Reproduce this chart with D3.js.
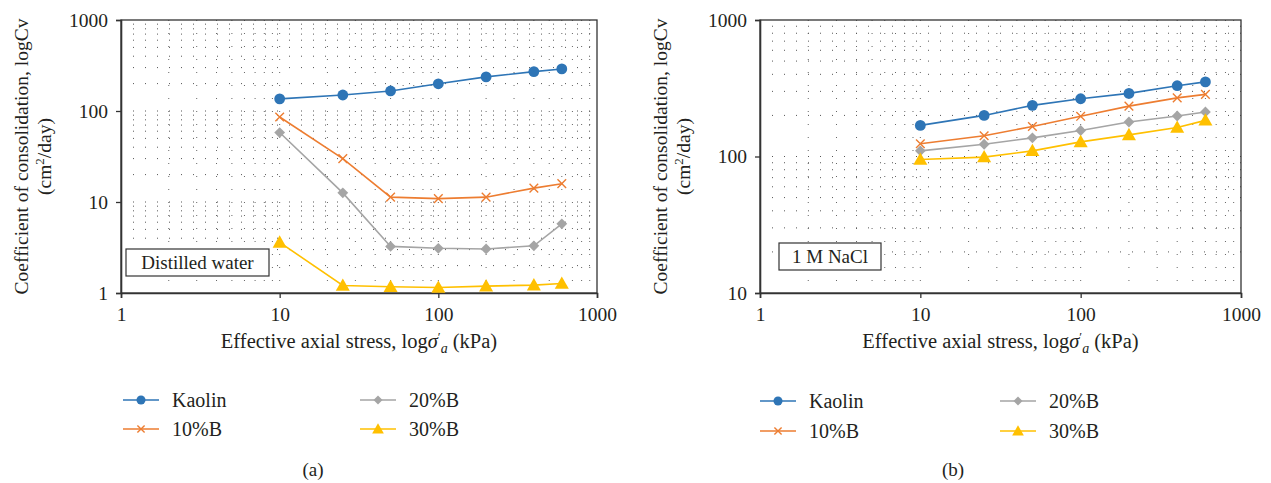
<!DOCTYPE html>
<html lang="en">
<head>
<meta charset="UTF-8"/>
<title>Coefficient of consolidation</title>
<script src="https://d3js.org/d3.v7.min.js"></script>
<style>
    body { margin: 0; background: #fff; }
    text { font-family: "Liberation Serif", "DejaVu Serif", serif; fill: #231f20; }
</style>
</head>
<body>
<script>
    var w = 1271;
    var h = 483;

    // effective axial stress (kPa)
    var stress = [10, 25, 50, 100, 200, 400, 600];
    var seriesNames = ["Kaolin", "10%B", "20%B", "30%B"];
    var seriesColors = ["#2e75b6", "#ed7d31", "#a5a5a5", "#ffc000"];
    var seriesMarkers = ["circle", "cross", "diamond", "triangle"];

    // (a) distilled water, Cv in cm2/day
    var waterKaolin = [136, 150, 166, 199, 237, 271, 290];
    var water10B = [86, 30, 11.3, 10.9, 11.3, 14.2, 15.9];
    var water20B = [58, 12.6, 3.25, 3.1, 3.05, 3.3, 5.75];
    var water30B = [3.6, 1.21, 1.17, 1.15, 1.19, 1.22, 1.27];

    // (b) 1 M NaCl
    var naclKaolin = [169, 200, 237, 265, 290, 330, 352];
    var nacl10B = [124, 142, 166, 197, 234, 269, 285];
    var nacl20B = [110, 123, 137, 155, 179, 198, 212];
    var nacl30B = [95, 99, 110, 128, 144, 163, 184];

    var xTicks = [1, 10, 100, 1000];
    var yTicksA = [1, 10, 100, 1000];
    var yTicksB = [10, 100, 1000];

    var svg = d3.select("body")
                .append("svg")
                .attr("width", w)
                .attr("height", h);

    function drawMarker(g, type, x, y, color, s) {
        if (type == "circle") {
            g.append("circle").attr("cx", x).attr("cy", y).attr("r", s)
             .attr("fill", color);
        } else if (type == "cross") {
            var c = s * 0.8;
            g.append("path")
             .attr("d", "M" + (x - c) + "," + (y - c) + "L" + (x + c) + "," + (y + c) +
                        "M" + (x - c) + "," + (y + c) + "L" + (x + c) + "," + (y - c))
             .attr("stroke", color).attr("stroke-width", 1.4).attr("fill", "none");
        } else if (type == "diamond") {
            g.append("path")
             .attr("d", "M" + x + "," + (y - s) + "L" + (x + s) + "," + y +
                        "L" + x + "," + (y + s) + "L" + (x - s) + "," + y + "Z")
             .attr("fill", color);
        } else {
            var t = s * 1.3;
            g.append("path")
             .attr("d", "M" + x + "," + (y - t) + "L" + (x + t) + "," + (y + t * 0.75) +
                        "L" + (x - t) + "," + (y + t * 0.75) + "Z")
             .attr("fill", color);
        }
    }

    function drawPanel(opt) {
        var x0 = opt.left, x1 = opt.right, y0 = opt.top, y1 = opt.bottom;

        var xScale = d3.scaleLog().domain([1, 1000]).range([x0, x1]);
        var yScale = d3.scaleLog().domain(opt.yDomain).range([y1, y0]);

        var g = svg.append("g");

        // dotted grid at every log step
        var xGrid = xScale.ticks().filter(function(d) { return d > 1 && d < 1000; });
        var yGrid = yScale.ticks().filter(function(d) { return d > opt.yDomain[0] && d < opt.yDomain[1]; });

        g.selectAll("line.vgrid")
         .data(xGrid)
         .enter()
         .append("line")
         .attr("class", "vgrid")
         .attr("x1", function(d) { return xScale(d); })
         .attr("x2", function(d) { return xScale(d); })
         .attr("y1", y0)
         .attr("y2", y1)
         .attr("stroke", "#666")
         .attr("stroke-width", 1)
         .attr("stroke-dasharray", "1,12");

        g.selectAll("line.hgrid")
         .data(yGrid)
         .enter()
         .append("line")
         .attr("class", "hgrid")
         .attr("x1", x0)
         .attr("x2", x1)
         .attr("y1", function(d) { return yScale(d); })
         .attr("y2", function(d) { return yScale(d); })
         .attr("stroke", "#555")
         .attr("stroke-width", 1)
         .attr("stroke-dasharray", "1,11");

        // frame
        g.append("rect")
         .attr("x", x0).attr("y", y0)
         .attr("width", x1 - x0).attr("height", y1 - y0)
         .attr("fill", "none")
         .attr("stroke", "#333")
         .attr("stroke-width", 1.3);

        // axes
        var xAxis = d3.axisBottom(xScale)
                      .tickValues(xTicks)
                      .tickFormat(d3.format("d"))
                      .tickSize(5)
                      .tickPadding(9);
        var yAxis = d3.axisLeft(yScale)
                      .tickValues(opt.yTicks)
                      .tickFormat(d3.format("d"))
                      .tickSize(5)
                      .tickPadding(8);

        var gx = g.append("g")
                  .attr("transform", "translate(0," + y1 + ")")
                  .call(xAxis);
        var gy = g.append("g")
                  .attr("transform", "translate(" + x0 + ",0)")
                  .call(yAxis);
        [gx, gy].forEach(function(a) {
            a.select(".domain").attr("stroke", "#333").attr("stroke-width", 1.6);
            a.selectAll(".tick line").attr("stroke", "#333").attr("stroke-width", 1.3);
            a.selectAll(".tick text")
             .attr("font-size", "19.5px")
             .attr("font-family", "Liberation Serif, serif")
             .attr("fill", "#231f20");
        });

        // series
        var line = d3.line()
                     .x(function(d) { return xScale(d[0]); })
                     .y(function(d) { return yScale(d[1]); });

        opt.series.forEach(function(vals, i) {
            var pts = stress.map(function(s, j) { return [s, vals[j]]; });
            g.append("path")
             .attr("d", line(pts))
             .attr("fill", "none")
             .attr("stroke", seriesColors[i])
             .attr("stroke-width", 1.6);
            pts.forEach(function(p) {
                drawMarker(g, seriesMarkers[i], xScale(p[0]), yScale(p[1]), seriesColors[i], 5.4);
            });
        });

        // condition label box
        g.append("rect")
         .attr("x", opt.boxX).attr("y", opt.boxY)
         .attr("width", opt.boxW).attr("height", 27)
         .attr("fill", "#fff")
         .attr("stroke", "#333")
         .attr("stroke-width", 1.2);
        g.append("text")
         .attr("x", opt.boxX + opt.boxW / 2)
         .attr("y", opt.boxY + 20)
         .attr("text-anchor", "middle")
         .attr("font-size", "19px")
         .text(opt.label);

        // x axis title
        var xt = g.append("text")
                  .attr("x", (x0 + x1) / 2)
                  .attr("y", 348)
                  .attr("text-anchor", "middle")
                  .attr("font-size", "20.5px");
        xt.append("tspan").text("Effective axial stress, log");
        xt.append("tspan").attr("font-style", "italic").text("σ");
        xt.append("tspan").attr("font-size", "13px").attr("dy", -7).text("′");
        xt.append("tspan").attr("font-size", "14px").attr("font-style", "italic")
          .attr("dy", 12).text("a");
        xt.append("tspan").attr("dy", -5).text(" (kPa)");

        // y axis title
        var cy = (y0 + y1) / 2;
        g.append("text")
         .attr("transform", "translate(" + opt.yTitleX + "," + cy + ") rotate(-90)")
         .attr("text-anchor", "middle")
         .attr("font-size", "19.5px")
         .text("Coefficient of consolidation, logCv");
        var yt2 = g.append("text")
                   .attr("transform", "translate(" + (opt.yTitleX + 23) + "," + cy + ") rotate(-90)")
                   .attr("text-anchor", "middle")
                   .attr("font-size", "19.5px");
        yt2.append("tspan").text("(cm");
        yt2.append("tspan").attr("font-size", "13px").attr("dy", -7).text("2");
        yt2.append("tspan").attr("dy", 7).text("/day)");

        // legend
        seriesNames.forEach(function(name, i) {
            var lx = opt.legendX + (i >= 2 ? opt.legendGap : 0);
            var ly = opt.legendY + (i % 2) * opt.legendRow;
            g.append("line")
             .attr("x1", lx).attr("x2", lx + 36)
             .attr("y1", ly).attr("y2", ly)
             .attr("stroke", seriesColors[i])
             .attr("stroke-width", 1.6);
            drawMarker(g, seriesMarkers[i], lx + 18, ly, seriesColors[i], 4.5);
            g.append("text")
             .attr("x", lx + 49)
             .attr("y", ly + 7)
             .attr("font-size", "20px")
             .text(name);
        });

        g.append("text")
         .attr("x", opt.capX)
         .attr("y", 476)
         .attr("text-anchor", "middle")
         .attr("font-size", "19px")
         .text(opt.caption);
    }

    drawPanel({
        left: 121, right: 597, top: 20, bottom: 293,
        yDomain: [1, 1000], yTicks: yTicksA,
        series: [waterKaolin, water10B, water20B, water30B],
        label: "Distilled water", boxX: 126, boxY: 249, boxW: 143,
        yTitleX: 28,
        legendX: 123, legendY: 400, legendRow: 29, legendGap: 237,
        capX: 313, caption: "(a)"
    });

    drawPanel({
        left: 760, right: 1241, top: 20, bottom: 293,
        yDomain: [10, 1000], yTicks: yTicksB,
        series: [naclKaolin, nacl10B, nacl20B, nacl30B],
        label: "1 M NaCl", boxX: 779, boxY: 243, boxW: 102,
        yTitleX: 667,
        legendX: 760, legendY: 401, legendRow: 30, legendGap: 240,
        capX: 953, caption: "(b)"
    });
</script>
</body>
</html>
